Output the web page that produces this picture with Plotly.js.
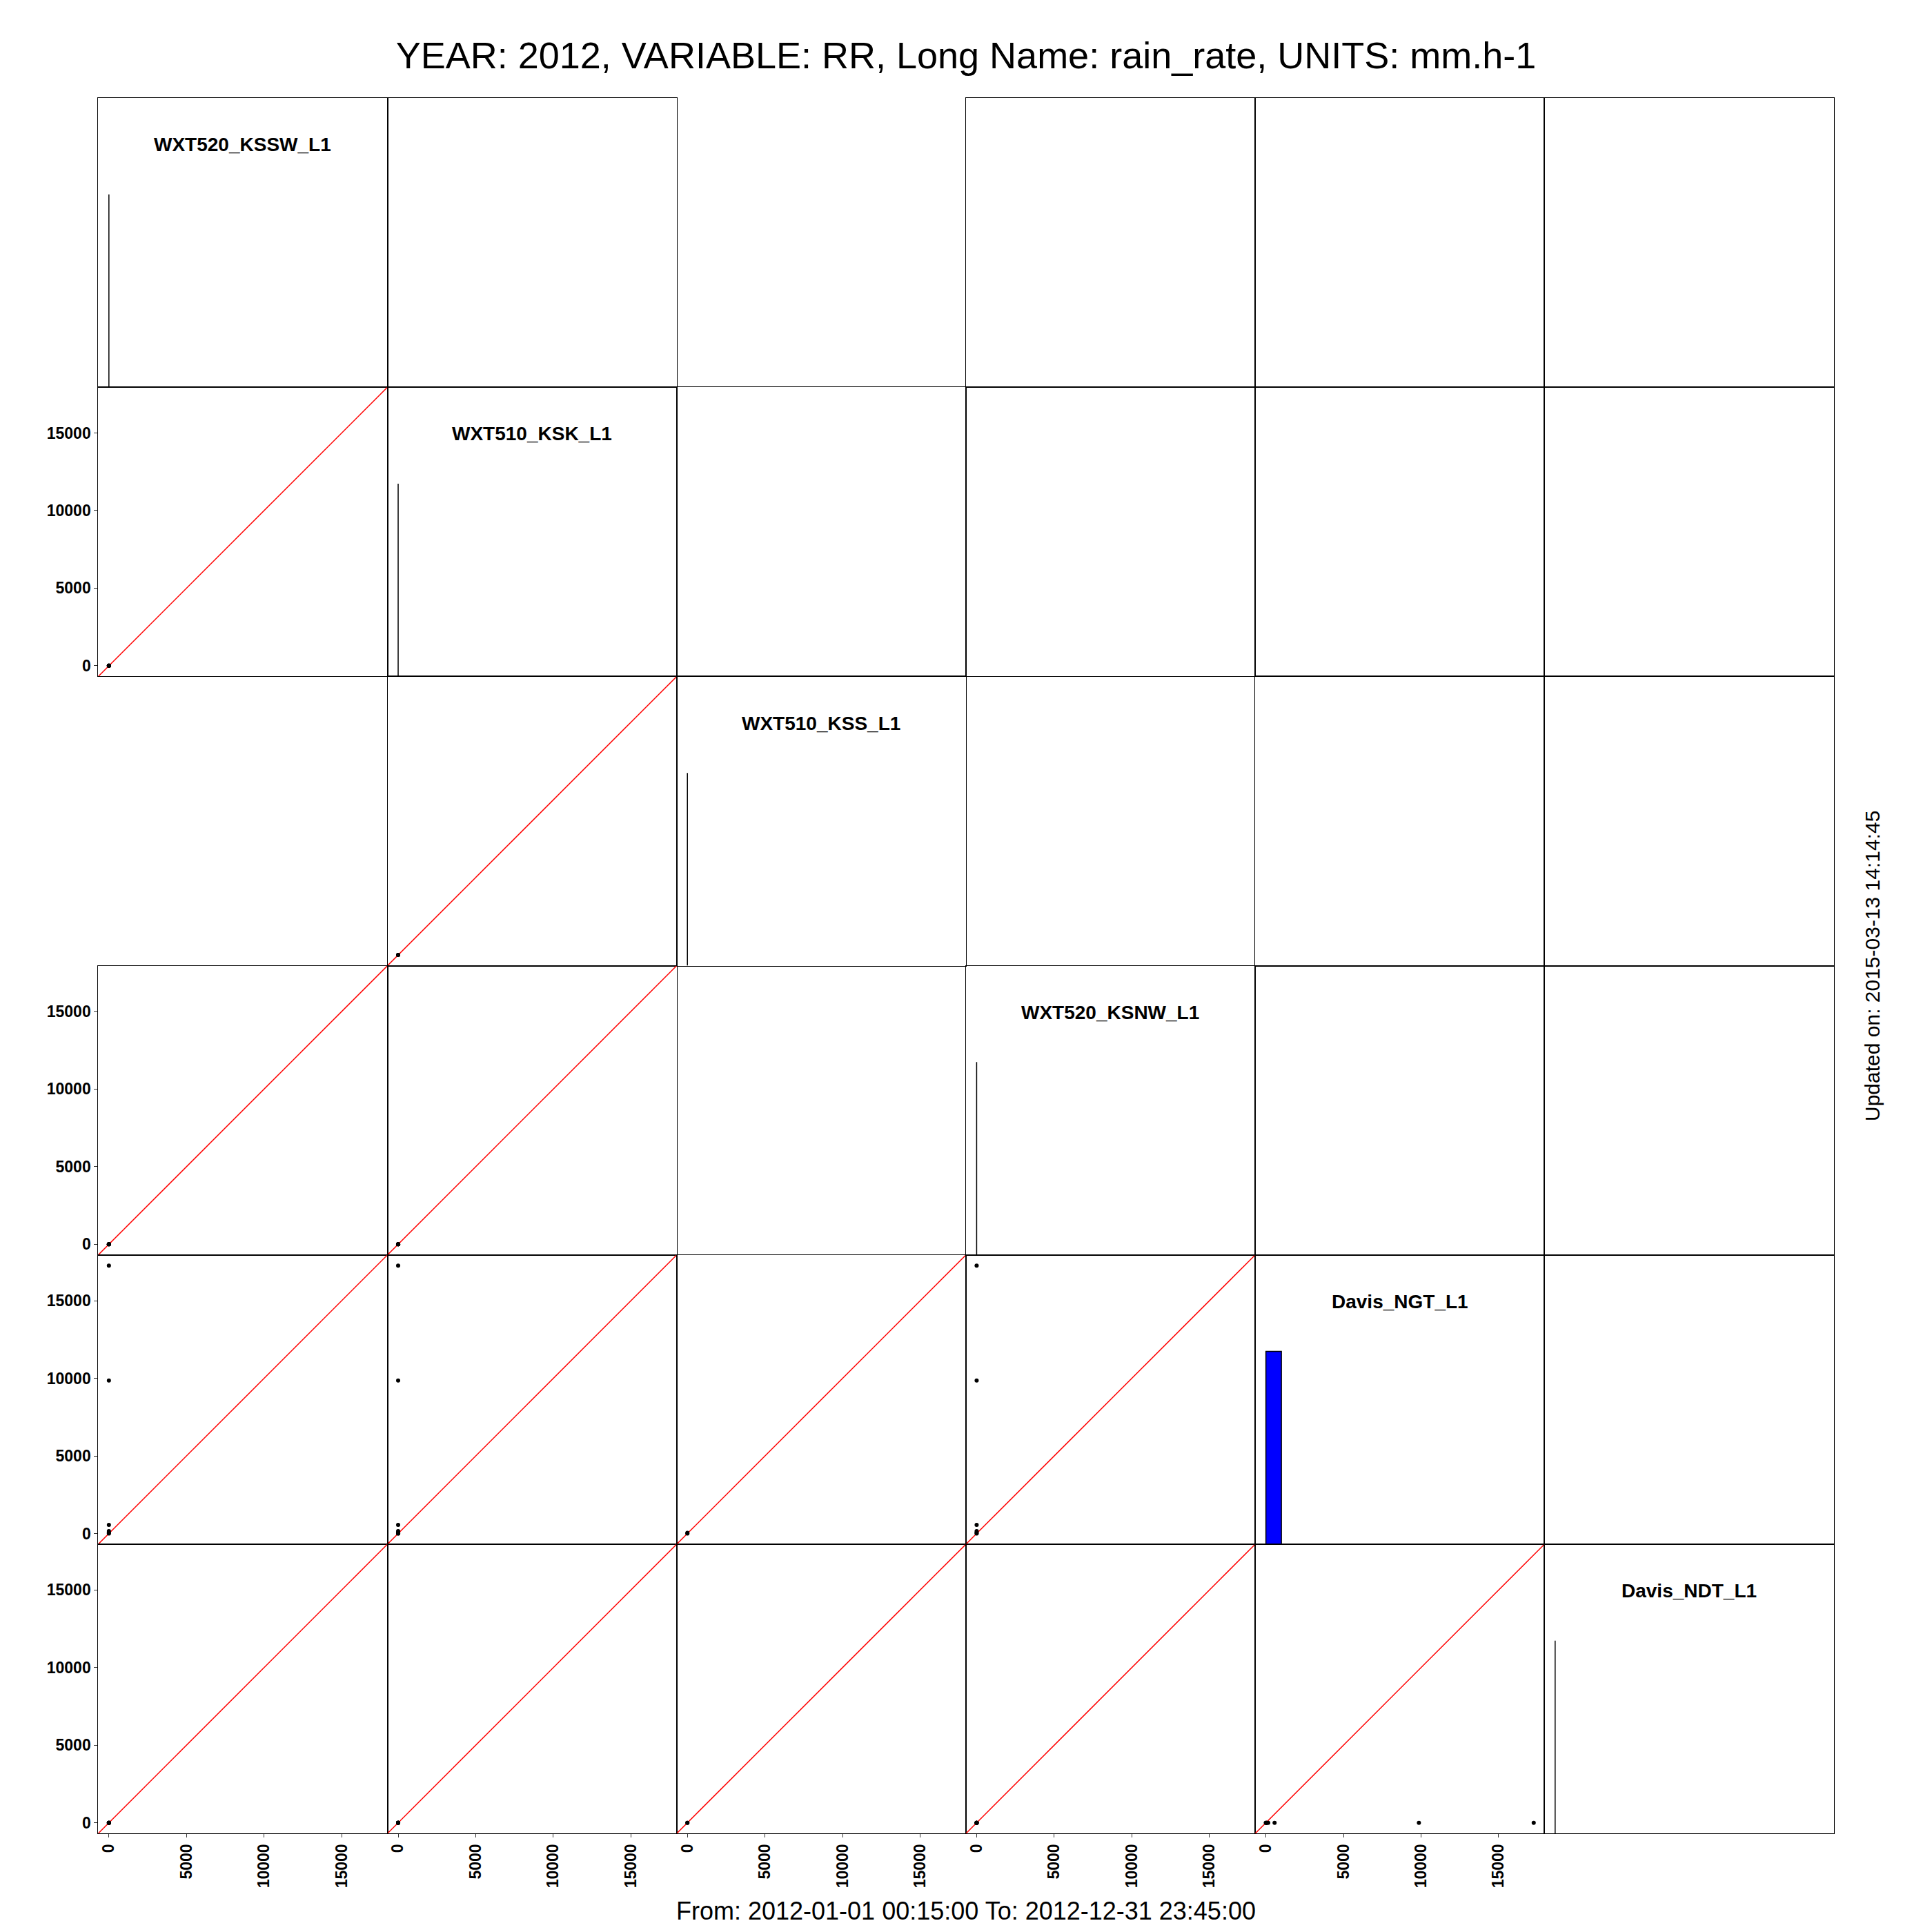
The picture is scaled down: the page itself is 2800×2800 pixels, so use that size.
<!DOCTYPE html>
<html>
<head>
<meta charset="utf-8">
<script src="https://cdn.plot.ly/plotly-3.0.1.min.js"></script>
<style>html,body{margin:0;padding:0;background:#fff;}</style>
</head>
<body>
<div id="chart" style="width:2800px;height:2800px;"></div>
<script>
// ---- data (rain rate, mm.h-1), one entry per observed pattern ----
const stations = ['WXT520_KSSW_L1', 'WXT510_KSK_L1', 'WXT510_KSS_L1', 'WXT520_KSNW_L1', 'Davis_NGT_L1', 'Davis_NDT_L1'];
const obsCount = [20000, 12000, 6, 30, 12, 3, 1, 1];
const KSSW = [0, null, null, 0, 0, 0, 0, 0];
const KSK  = [0, 0, 0, 0, 0, 0, 0, 0];
const KSS  = [null, 0, 0, null, null, null, null, null];
const KSNW = [0, null, null, 0, 0, 0, 0, 0];
const NGT  = [0, 0, 40, 50, 150, 560, 9860, 17260];
const NDT  = [0, 0, 0, 0, 0, 0, 0, 0];
const tickVals = [0, 5000, 10000, 15000];
const titleText = 'YEAR: 2012, VARIABLE: RR, Long Name: rain_rate, UNITS: mm.h-1';
const periodText = 'From: 2012-01-01 00:15:00 To: 2012-12-31 23:45:00';
const updatedText = 'Updated on: 2015-03-13 14:14:45';

const series = [KSSW, KSK, KSS, KSNW, NGT, NDT];
const N = stations.length;
const FONT = 'Liberation Sans, Arial, sans-serif';

// common axis range, extended by 4% like R
const allVals = series.flat().filter(v => v !== null);
const vmin = Math.min(...allVals), vmax = Math.max(...allVals);
const ext = 0.04 * (vmax - vmin);
const lo = vmin - ext, hi = vmax + ext;

function overlap(a, b) { return a.some((v, k) => v !== null && b[k] !== null); }

function prettyUnit(cell) {
  const h = 1.5, h5 = 0.5 + 1.5 * h;
  const U = Math.pow(10, Math.floor(Math.log10(cell)));
  let unit = U;
  if (2 * U - cell < h * (cell - unit)) {
    unit = 2 * U;
    if (5 * U - cell < h5 * (cell - unit)) {
      unit = 5 * U;
      if (10 * U - cell < h * (cell - unit)) unit = 10 * U;
    }
  }
  return unit;
}
function histo(vals, counts) {
  let n = 0, mn = Infinity, mx = -Infinity;
  vals.forEach((v, k) => { if (v !== null) { n += counts[k]; mn = Math.min(mn, v); mx = Math.max(mx, v); } });
  const k = Math.ceil(Math.log2(n) + 1);
  const unit = mx > mn ? prettyUnit((mx - mn) / k) : 1;
  const start = Math.floor(mn / unit) * unit;
  const end = Math.max(Math.ceil(mx / unit) * unit, start + unit);
  const nb = Math.round((end - start) / unit);
  const c = new Array(nb).fill(0);
  vals.forEach((v, k2) => {
    if (v !== null) {
      let b = Math.ceil((v - start) / unit) - 1;
      if (b < 0) b = 0; if (b >= nb) b = nb - 1;
      c[b] += counts[k2];
    }
  });
  const m = Math.max(...c);
  return { start, unit, h: c.map(x => x / m) };
}

// grid geometry (pixels on the 2800x2800 canvas)
const W = 2800, X0 = 142.3, Y0 = 142, CELL = 419.2;

const traces = [];
const layout = {
  width: 2800, height: 2800,
  margin: { l: 0, r: 0, t: 0, b: 0 },
  paper_bgcolor: '#fff', plot_bgcolor: 'rgba(0,0,0,0)',
  showlegend: false,
  font: { family: FONT, color: '#000' },
  title: { text: titleText, font: { family: FONT, size: 54, color: '#000' },
           x: 0.5, xref: 'paper', xanchor: 'center', y: 1 - 80 / W, yref: 'paper', yanchor: 'middle' },
  annotations: [
    { text: periodText, xref: 'paper', yref: 'paper', x: 1400 / W, y: 1 - 2769 / W,
      xanchor: 'center', yanchor: 'middle', showarrow: false, font: { family: FONT, size: 36, color: '#000' } },
    { text: updatedText, xref: 'paper', yref: 'paper', x: 2713 / W, y: 1 - 1400 / W, textangle: -90,
      xanchor: 'center', yanchor: 'middle', showarrow: false, font: { family: FONT, size: 30, color: '#000' } }
  ]
};

for (let r = 0; r < N; r++) {
  for (let c = 0; c < N; c++) {
    const diag = r === c;
    if (!diag && !overlap(series[r], series[c])) continue; // empty pairs are not drawn
    const n = r * N + c + 1;
    const id = n === 1 ? '' : String(n);
    const xa = 'x' + id, ya = 'y' + id;
    const lowerScatter = r > c;
    const xaxis = {
      domain: [(X0 + c * CELL) / W, (X0 + (c + 1) * CELL) / W],
      range: [lo, hi], anchor: ya,
      showgrid: false, zeroline: false, showline: true, mirror: true,
      linecolor: '#000', linewidth: 1, ticks: '', showticklabels: false, fixedrange: true
    };
    const yaxis = {
      domain: [1 - (Y0 + (r + 1) * CELL) / W, 1 - (Y0 + r * CELL) / W],
      range: diag ? [0, 1.5] : [lo, hi], anchor: xa,
      showgrid: false, zeroline: false, showline: true, mirror: true,
      linecolor: '#000', linewidth: 1, ticks: '', showticklabels: false, fixedrange: true
    };
    const tickCommon = {
      ticks: 'outside', ticklen: 5, tickwidth: 1, tickcolor: '#333',
      tickvals: tickVals, ticktext: tickVals.map(String), showticklabels: true,
      tickfont: { family: FONT, size: 23, color: '#000', weight: 'bold' }
    };
    if (lowerScatter && c === 0) Object.assign(yaxis, tickCommon);
    if (lowerScatter && r === N - 1) Object.assign(xaxis, tickCommon, { tickangle: -90 });
    layout['xaxis' + id] = xaxis;
    layout['yaxis' + id] = yaxis;

    if (diag) {
      const hs = histo(series[r], obsCount);
      const px = [], py = [];
      hs.h.forEach((h, b) => {
        const x0 = hs.start + b * hs.unit, x1 = x0 + hs.unit;
        px.push(x0, x0, x1, x1, x0, null);
        py.push(0, h, h, 0, 0, null);
      });
      traces.push({ type: 'scatter', mode: 'lines', x: px, y: py, xaxis: xa, yaxis: ya,
        fill: 'toself', fillcolor: '#0000ff', line: { color: '#000', width: 1.5 }, hoverinfo: 'skip' });
      layout.annotations.push({ text: '<b>' + stations[r] + '</b>', xref: xa, yref: ya,
        x: (lo + hi) / 2, y: 1.258, xanchor: 'center', yanchor: 'middle', showarrow: false,
        font: { family: FONT, size: 28, color: '#000' } });
    } else if (lowerScatter) {
      const sx = [], sy = [];
      series[c].forEach((v, k) => { if (v !== null && series[r][k] !== null) { sx.push(v); sy.push(series[r][k]); } });
      traces.push({ type: 'scatter', mode: 'lines', x: [lo, hi], y: [lo, hi], xaxis: xa, yaxis: ya,
        line: { color: '#ff0000', width: 1.5 }, hoverinfo: 'skip' });
      traces.push({ type: 'scatter', mode: 'markers', x: sx, y: sy, xaxis: xa, yaxis: ya,
        marker: { color: '#000', size: 6, line: { width: 0 } }, hoverinfo: 'skip' });
    } else {
      traces.push({ type: 'scatter', mode: 'markers', x: [], y: [], xaxis: xa, yaxis: ya, hoverinfo: 'skip' });
    }
  }
}

Plotly.newPlot('chart', traces, layout, { displayModeBar: false, responsive: false });
</script>
</body>
</html>
